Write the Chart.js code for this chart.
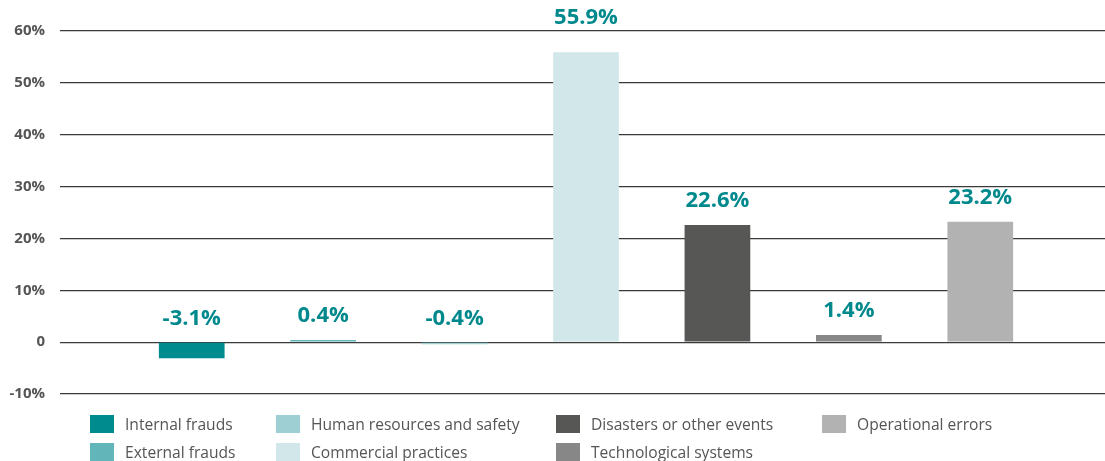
<!DOCTYPE html>
<html>
<head>
<meta charset="utf-8">
<script src="https://cdn.jsdelivr.net/npm/chart.js@4.4.1/dist/chart.umd.min.js"></script>
<style>
  body { margin: 0; background: #fff; }
  #wrap { position: relative; width: 1105px; height: 461px; overflow: hidden; }
  #legenda { position: absolute; left: 0; top: 0; width: 1105px; height: 461px; pointer-events: none;
    font-family: "Open Sans", "Noto Sans", sans-serif; font-size: 15.6px; color: #555; }
  .item { position: absolute; display: flex; align-items: center; white-space: nowrap; }
  .caixa { width: 24px; height: 18px; margin-right: 11px; }
</style>
</head>
<body>
<div id="wrap">
  <canvas id="grafico" width="1105" height="461"></canvas>
  <div id="legenda"></div>
</div>
<script>
const categorias = ['Internal frauds', 'External frauds', 'Human resources and safety', 'Commercial practices',
  'Disasters or other events', 'Technological systems', 'Operational errors'];
const valores = [-3.1, 0.4, -0.4, 55.9, 22.6, 1.4, 23.2];
const cores = ['#008b8e', '#62b5b9', '#9dcfd3', '#d2e7ea', '#575756', '#878787', '#b2b2b2'];
const ticksY = [-10, 0, 10, 20, 30, 40, 50, 60];

// legenda em 4 colunas, preenchida por coluna
const colX = [90, 276, 556, 822];
const linhaY = [413, 441];
let htmlLeg = '';
categorias.forEach((nome, i) => {
  const col = Math.floor(i / 2), lin = i % 2;
  htmlLeg += `<div class="item" style="left:${colX[col]}px; top:${linhaY[lin]}px;"><span class="caixa" style="background:${cores[i]}"></span>${nome}</div>`;
});
document.getElementById('legenda').innerHTML = htmlLeg;

// o grupo de barras no original fica um pouco a direita do centro
const deslocaX = {
  id: 'deslocaX',
  afterLayout(chart) {
    const x = chart.scales.x;
    x.right += 7;
    x.width += 7;
    x.configure();
  }
};

const rotulos = {
  id: 'rotulos',
  afterDatasetsDraw(chart) {
    const ctx = chart.ctx;
    const area = chart.chartArea;
    ctx.save();
    ctx.font = 'bold 22px "Open Sans", sans-serif';
    ctx.fillStyle = '#00898c';
    ctx.textAlign = 'center';
    ctx.textBaseline = 'middle';
    chart.data.datasets.forEach((ds, i) => {
      const bar = chart.getDatasetMeta(i).data[0];
      const topo = Math.min(bar.y, bar.base);
      let y = topo - 24;
      if (y < area.top + 10) y = area.top - 13;
      ctx.fillText(ds.data[0].toFixed(1) + '%', bar.x, y);
    });
    ctx.restore();
  }
};

new Chart(document.getElementById('grafico'), {
  type: 'bar',
  data: {
    labels: [''],
    datasets: categorias.map((nome, i) => ({
      label: nome,
      data: [valores[i]],
      backgroundColor: cores[i],
      categoryPercentage: 0.8745,
      barPercentage: 0.5
    }))
  },
  options: {
    responsive: false,
    animation: false,
    layout: { padding: { top: 31, bottom: 67, right: 0, left: 0 } },
    plugins: { legend: { display: false }, tooltip: { enabled: false } },
    scales: {
      x: { display: false },
      y: {
        min: ticksY[0],
        max: ticksY[ticksY.length - 1],
        afterBuildTicks: ax => { ax.ticks = ticksY.map(v => ({ value: v })); },
        afterFit: ax => { ax.width = 60; },
        border: { display: false },
        grid: { color: '#3a3a3a', lineWidth: 1.2, drawTicks: false },
        ticks: {
          padding: 15,
          color: '#555',
          font: { family: '"Open Sans", sans-serif', weight: 'bold', size: 15 },
          callback: v => v === 0 ? '0' : v + '%'
        }
      }
    }
  },
  plugins: [deslocaX, rotulos]
});
</script>
</body>
</html>
